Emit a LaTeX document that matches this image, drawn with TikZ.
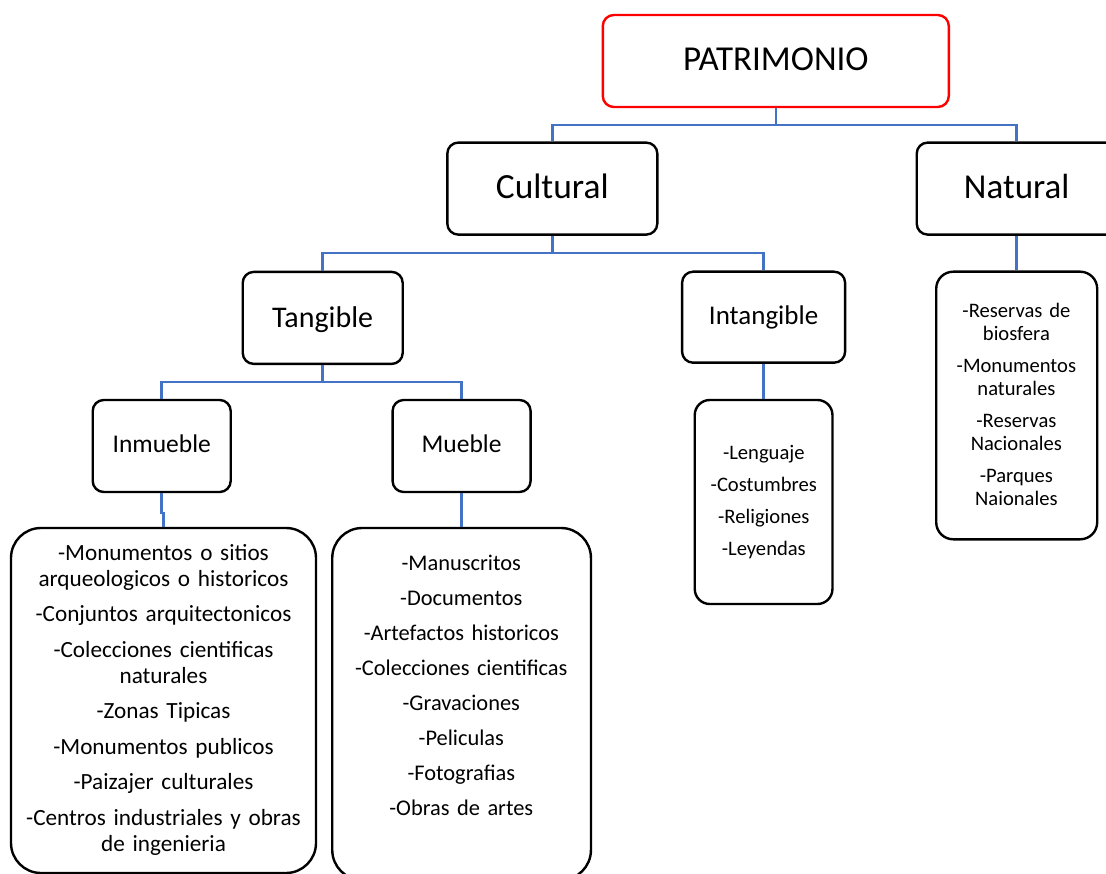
\documentclass[tikz,border=0pt]{standalone}
\usepackage{fontspec}
\setmainfont{Carlito}
\definecolor{connblue}{HTML}{4472C4}
\definecolor{patred}{HTML}{FF0000}
\begin{document}
\begin{tikzpicture}[x=1pt,y=-1pt,
  box/.style={draw=black, line width=2.4pt, rounded corners=11pt, inner sep=0pt, text depth=0pt},
  listbox/.style={draw=black, line width=2.4pt, inner sep=0pt},
  conn/.style={draw=connblue, line width=2.5pt},
  listtext/.style={inner sep=0pt, align=center, anchor=base}]
\useasboundingbox (0,0) rectangle (1106,874);

% level boxes
\node[box, draw=patred, minimum width=346, minimum height=92, font=\fontsize{35}{42}\selectfont, text height=20pt] (patr) at (775.8,61) {PATRIMONIO};
\node[box, minimum width=210, minimum height=92, font=\fontsize{35.4}{42}\selectfont, text height=19.4pt] (cult) at (552.3,188.6) {Cultural};
\node[box, minimum width=200, minimum height=92, font=\fontsize{35}{42}\selectfont, text height=19.4pt] (nat) at (1016.7,188.6) {Natural};
\node[box, minimum width=160, minimum height=92, font=\fontsize{30}{36}\selectfont, text height=18.8pt] (tang) at (322.7,317.9) {Tangible};
\node[box, minimum width=163, minimum height=91, font=\fontsize{27}{32}\selectfont, text height=15.6pt] (intang) at (763.6,317.2) {Intangible};
\node[box, minimum width=138, minimum height=92, font=\fontsize{25.5}{30}\selectfont, text height=13.4pt] (inm) at (161.7,446) {Inmueble};
\node[box, minimum width=138, minimum height=92, font=\fontsize{25.5}{30}\selectfont, text height=13.4pt] (mue) at (461.6,446) {Mueble};

% list boxes
\node[listbox, rounded corners=17pt, minimum width=161, minimum height=267.6] (natL) at (1016.7,405.5) {};
\node[listbox, rounded corners=15pt, minimum width=137.7, minimum height=204] (intL) at (763.6,502) {};
\node[listbox, rounded corners=30pt, minimum width=305, minimum height=345] (inmL) at (163.5,700.5) {};
\node[listbox, rounded corners=30pt, minimum width=258.7, minimum height=352] (mueL) at (461.6,704) {};

% list texts
\node[listtext, text width=160, font=\fontsize{20.6}{22.5}\selectfont] (natT) at (1016.4,318)
  {-Reservas de\\biosfera\\[10pt]-Monumentos\\naturales\\[10pt]-Reservas\\Nacionales\\[10pt]-Parques\\Naionales};
\node[listtext, text width=137, font=\fontsize{20.6}{31.7}\selectfont] (intT) at (763.8,460)
  {-Lenguaje\\-Costumbres\\-Religiones\\-Leyendas};
\node[listtext, text width=300, font=\fontsize{23.2}{26}\selectfont] (inmT) at (163.5,560)
  {-Monumentos o sitios\\arqueologicos o historicos\\[9.5pt]-Conjuntos arquitectonicos\\[9.5pt]-Colecciones cientificas\\naturales\\[9.5pt]-Zonas Tipicas\\[9.5pt]-Monumentos publicos\\[9.5pt]-Paizajer culturales\\[9.5pt]-Centros industriales y obras\\de ingenieria};
\node[listtext, text width=255, font=\fontsize{22.4}{35.1}\selectfont] (mueT) at (461.3,570)
  {-Manuscritos\\-Documentos\\-Artefactos historicos\\-Colecciones cientificas\\-Gravaciones\\-Peliculas\\-Fotografias\\-Obras de artes};

% connectors
\coordinate (j1) at (775.8,125);
\coordinate (j2) at (552.3,253);
\coordinate (j3) at (322.7,382);
\draw[conn] (patr.south) -- (j1);
\draw[conn] (cult.north) |- (j1) -| (nat.north);
\draw[conn] (cult.south) -- (j2);
\draw[conn] (tang.north) |- (j2) -| (intang.north);
\draw[conn] (tang.south) -- (j3);
\draw[conn] (inm.north) |- (j3) -| (mue.north);
\draw[conn] (nat.south) -- (natL.north);
\draw[conn] (intang.south) -- (intL.north);
\draw[conn] (inm.south) -- ++(0,20) -| (inmL.north);
\draw[conn] (mue.south) -- (mueL.north);
\end{tikzpicture}
\end{document}
